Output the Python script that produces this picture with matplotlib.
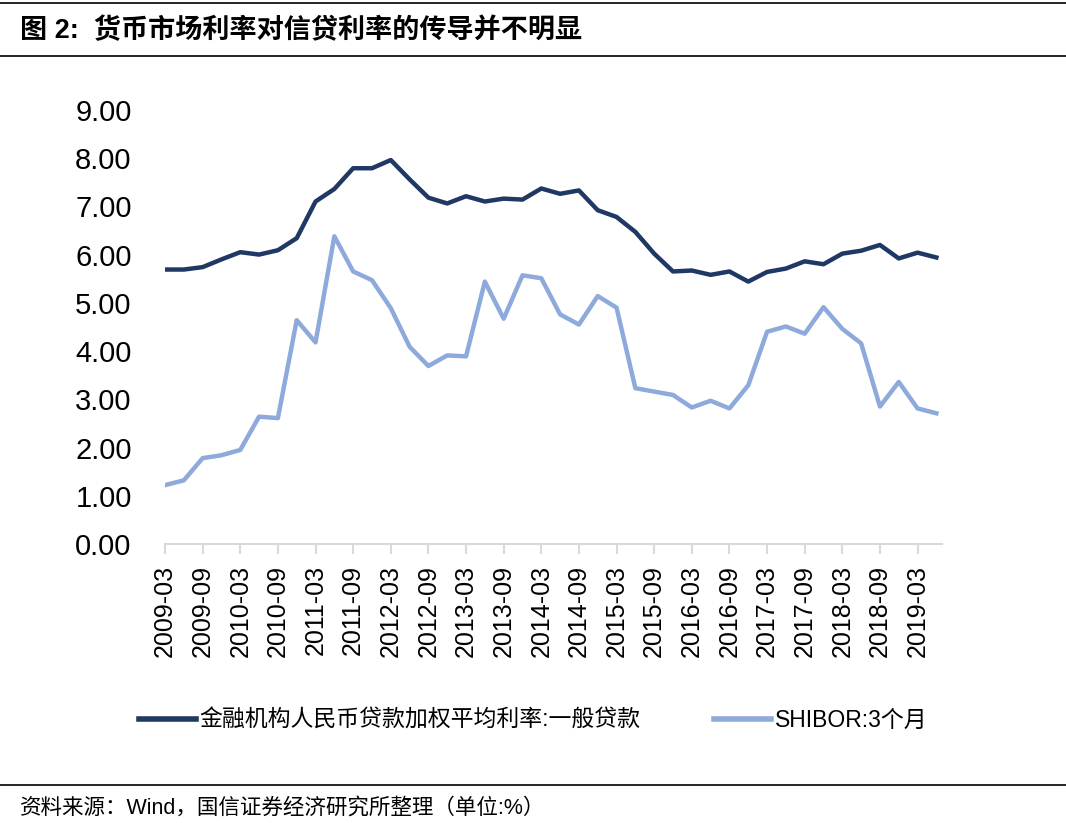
import matplotlib
matplotlib.use('Agg')
import matplotlib.pyplot as plt
from matplotlib.lines import Line2D

plt.rcParams['font.family'] = ['Liberation Sans', 'Noto Sans CJK SC']
plt.rcParams['axes.unicode_minus'] = False

# quarterly data, 2009-03 .. 2019-06
loan_rate = [5.69, 5.69, 5.74, 5.90, 6.05, 6.00, 6.09, 6.34, 7.10, 7.36,
             7.79, 7.79, 7.96, 7.56, 7.18, 7.06, 7.21, 7.10, 7.16, 7.14,
             7.37, 7.26, 7.33, 6.92, 6.78, 6.47, 6.02, 5.65, 5.67, 5.58,
             5.65, 5.44, 5.64, 5.71, 5.86, 5.80, 6.02, 6.08, 6.20, 5.92,
             6.04, 5.94]
shibor_3m = [1.22, 1.32, 1.78, 1.84, 1.95, 2.64, 2.61, 4.64, 4.18, 6.38,
             5.65, 5.47, 4.89, 4.09, 3.69, 3.91, 3.89, 5.44, 4.67, 5.57,
             5.51, 4.76, 4.55, 5.14, 4.90, 3.23, 3.16, 3.09, 2.83, 2.97,
             2.81, 3.29, 4.40, 4.51, 4.36, 4.91, 4.46, 4.16, 2.85, 3.36,
             2.81, 2.71]
tick_labels = ['2009-03', '2009-09', '2010-03', '2010-09', '2011-03', '2011-09',
               '2012-03', '2012-09', '2013-03', '2013-09', '2014-03', '2014-09',
               '2015-03', '2015-09', '2016-03', '2016-09', '2017-03', '2017-09',
               '2018-03', '2018-09', '2019-03']
yticks = [0, 1, 2, 3, 4, 5, 6, 7, 8, 9]

name_loan = '金融机构人民币贷款加权平均利率:一般贷款'
name_shibor = 'SHIBOR:3个月'
dark = '#203864'
light = '#8EA9DB'

fig = plt.figure(figsize=(10.66, 8.23), dpi=100)
ax = fig.add_axes([0.1548, 0.339, 0.7289, 0.5275])

X = list(range(len(loan_rate)))
ax.plot(X, loan_rate, color=dark, linewidth=3.2, solid_joinstyle='round', label=name_loan)
ax.plot(X, shibor_3m, color=light, linewidth=3.2, solid_joinstyle='round', label=name_shibor)

ax.set_xlim(0, 41.3)
ax.set_ylim(0, 9)
ax.set_xticks(range(0, 2 * len(tick_labels), 2))
ax.set_xticklabels(tick_labels, rotation=90, fontsize=18)
ax.set_yticks(yticks)
ax.set_yticklabels(['%.2f' % v for v in yticks], fontsize=21)
ax.tick_params(axis='y', length=0, pad=24)
ax.tick_params(axis='x', length=7, width=1.5, color='#d9d9d9', pad=8)
for s in ['left', 'right', 'top']:
    ax.spines[s].set_visible(False)
ax.spines['bottom'].set_color('#d9d9d9')
ax.spines['bottom'].set_linewidth(1.5)

handles = [Line2D([], [], color=dark, linewidth=4), Line2D([], [], color=light, linewidth=4)]
fig.legend(handles, [name_loan, name_shibor], loc='center', bbox_to_anchor=(0.5, 0.125),
           ncol=2, frameon=False, fontsize=16.5, handlelength=2.5, handletextpad=0.15,
           columnspacing=3.2)

# header / footer
fig.text(20 / 1066, 1 - 31 / 823, '图 2:  货币市场利率对信贷利率的传导并不明显',
         fontsize=19.5, fontweight='bold', va='center', ha='left')
fig.text(20 / 1066, 1 - 808 / 823, '资料来源：Wind，国信证券经济研究所整理（单位:%）',
         fontsize=15.5, va='center', ha='left')
for yy in [1 - 3 / 823, 1 - 56 / 823, 1 - 785 / 823]:
    fig.add_artist(Line2D([0, 1], [yy, yy], color='black', linewidth=1.2,
                          transform=fig.transFigure))

fig.savefig('out.png', dpi=100)
